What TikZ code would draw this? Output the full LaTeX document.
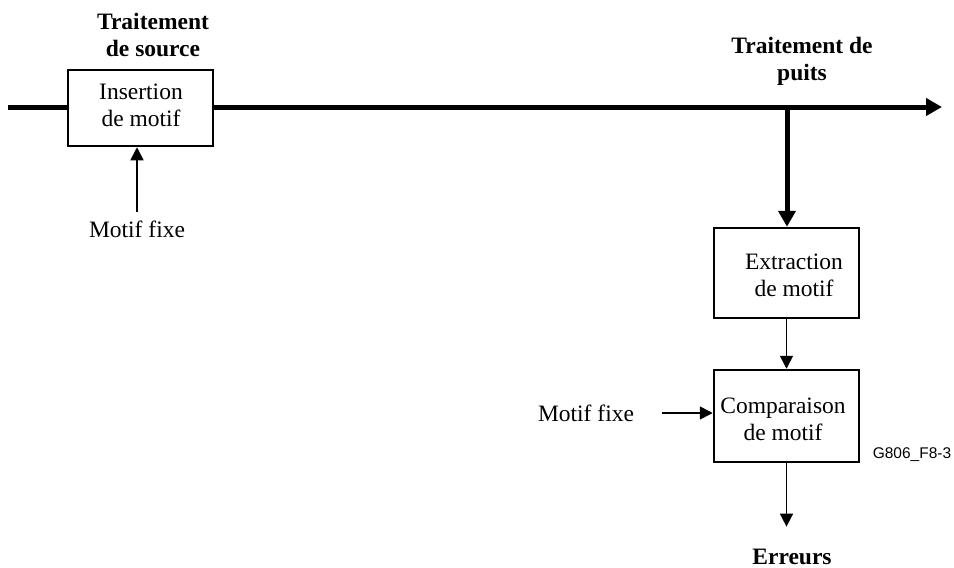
\documentclass[tikz,border=0pt]{standalone}
\usepackage{fontspec}
\setmainfont{Liberation Serif}
\setsansfont{Liberation Sans}
\usetikzlibrary{arrows.meta}

\begin{document}
\begin{tikzpicture}[x=1pt,y=-1pt,
  blok/.style={draw,line width=2.5pt,inner sep=0pt},
  txt/.style={align=center,font=\fontsize{23.5}{27}\selectfont},
  titre/.style={align=center,font=\fontsize{23.5}{27}\selectfont\bfseries},
  gros/.style={line width=5pt,-{Triangle[length=16pt,width=17pt]}},
  fin/.style={line width=1.6pt,-{Triangle[length=13pt,width=13pt]}}]
\useasboundingbox (0,0) rectangle (954,568);
\node[blok,minimum width=145pt,minimum height=76pt] (ins) at (140.5,108) {};
\node[blok,minimum width=145pt,minimum height=90pt] (ext) at (786.5,273) {};
\node[blok,minimum width=145pt,minimum height=92pt] (cmp) at (786.5,416) {};
\node[txt] (inst) at (141,105) {Insertion\\de motif};
\node[txt] (extt) at (794,275) {Extraction\\de motif};
\node[txt] (cmpt) at (783,419) {Comparaison\\de motif};

\node[titre] (src) at (153,34.5) {Traitement\\de source};
\node[titre] (pts) at (802,61.5) {Traitement de\\puits};
\node[txt] (mf1) at (137,229.5) {Motif fixe};
\node[txt] (mf2) at (586,413) {Motif fixe};
\node[titre] (err) at (792,557) {Erreurs};
\node[font=\sffamily\fontsize{15.5}{18}\selectfont] (fig) at (912,455) {G806\_F8-3};

\coordinate (in) at (8,107);
\coordinate (out) at (942,107);
\coordinate (tap) at (787,107);

% ligne principale
\draw[line width=5pt] (in) -- (in -| ins.west);
\draw[gros] (tap -| ins.east) -- (out);
\draw[gros] (tap) -- (tap |- ext.north);

\draw[fin,shorten <=6pt] (mf1.north) -- (mf1.north |- ins.south);
\draw[fin,shorten <=24pt] (mf2.east) -- (mf2.east -| cmp.west);
\draw[fin] (ext.south) -- (cmp.north);
\draw[fin,shorten >=19pt] (cmp.south) -- (cmp.south |- err.north);
\end{tikzpicture}
\end{document}
